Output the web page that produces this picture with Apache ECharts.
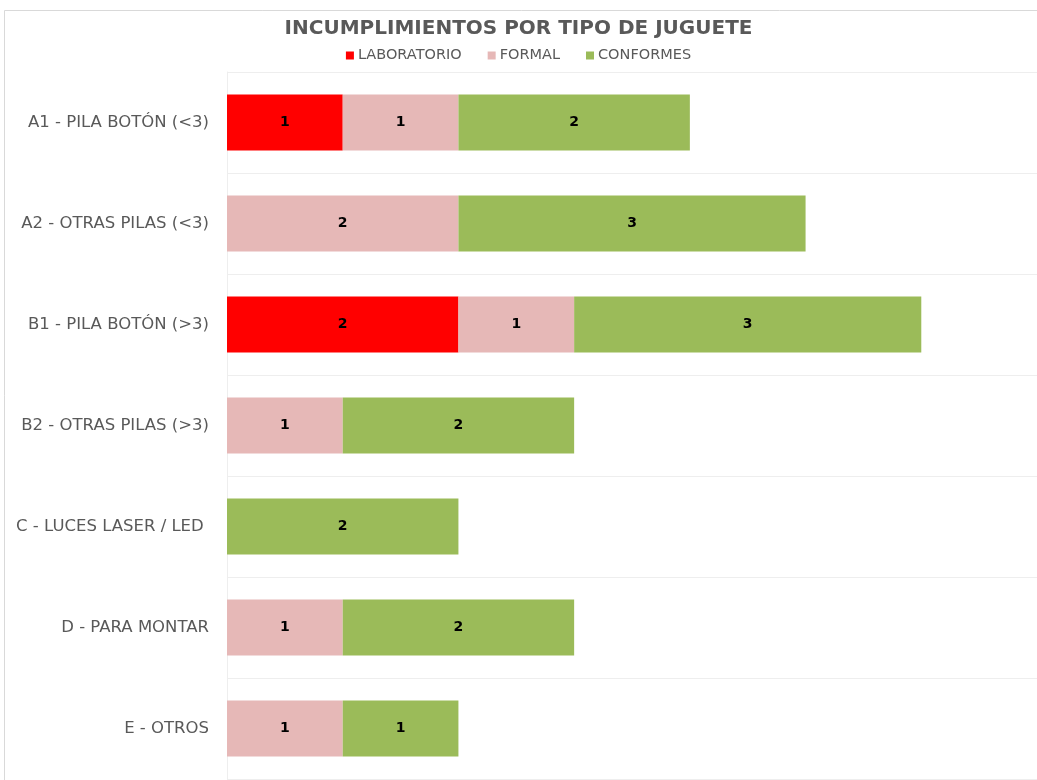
<!DOCTYPE html>
<html><head><meta charset="utf-8">
<script src="https://cdn.jsdelivr.net/npm/echarts@6/dist/echarts.min.js"></script>
<style>html,body{margin:0;padding:0;background:#fff}#c{width:1037px;height:780px}</style>
</head><body><div id="c"></div>
<script>
const categories = ['A1 - PILA BOTÓN (<3)', 'A2 - OTRAS PILAS (<3)', 'B1 - PILA BOTÓN (>3)', 'B2 - OTRAS PILAS (>3)', 'C - LUCES LASER / LED ', 'D - PARA MONTAR', 'E - OTROS'];
const laboratorio = [1, null, 2, null, null, null, null];
const formal = [1, 2, 1, 1, null, 1, 1];
const conformes = [2, 3, 3, 2, 2, 2, 1];

const chart = echarts.init(document.getElementById('c'));
const lbl = {show: true, position: 'inside', color: '#000', fontWeight: 'bold', fontSize: 14, fontFamily: 'DejaVu Sans'};
chart.setOption({
  animation: false,
  backgroundColor: '#fff',
  title: {text: 'INCUMPLIMIENTOS POR TIPO DE JUGUETE', left: 'center', top: 14,
    textStyle: {color: '#595959', fontSize: 20, fontWeight: 'bold', fontFamily: 'DejaVu Sans'}},
  legend: {top: 43, left: 'center', itemWidth: 8, itemHeight: 8, itemGap: 26, icon: 'rect',
    textStyle: {color: '#595959', fontSize: 14.5, fontFamily: 'DejaVu Sans', padding: [0,0,0,-1]},
    data: ['LABORATORIO', 'FORMAL', 'CONFORMES']},
  graphic: [{type: 'rect', shape: {x: 4.5, y: 10.5, width: 1040, height: 780}, style: {fill: 'none', stroke: '#d9d9d9', lineWidth: 1}, silent: true}],
  grid: {left: 227, top: 72, width: 812, height: 707, containLabel: false},
  xAxis: {type: 'value', min: 0, max: 7, interval: 1, show: false},
  yAxis: {type: 'category', data: categories, inverse: true,
    axisLine: {show: true, lineStyle: {color: '#eeeeee'}}, axisTick: {show: false},
    splitLine: {show: true, lineStyle: {color: '#eeeeee'}},
    axisLabel: {color: '#595959', fontSize: 16.5, fontFamily: 'DejaVu Sans', margin: 18, fontWeight: 'normal'}},
  series: [
    {name: 'LABORATORIO', type: 'bar', stack: 't', data: laboratorio, barWidth: 56, itemStyle: {color: '#ff0000'}, label: lbl},
    {name: 'FORMAL', type: 'bar', stack: 't', data: formal, barWidth: 56, itemStyle: {color: '#e6b8b7'}, label: lbl},
    {name: 'CONFORMES', type: 'bar', stack: 't', data: conformes, barWidth: 56, itemStyle: {color: '#9bbb59'}, label: lbl}
  ]
});
</script></body></html>
